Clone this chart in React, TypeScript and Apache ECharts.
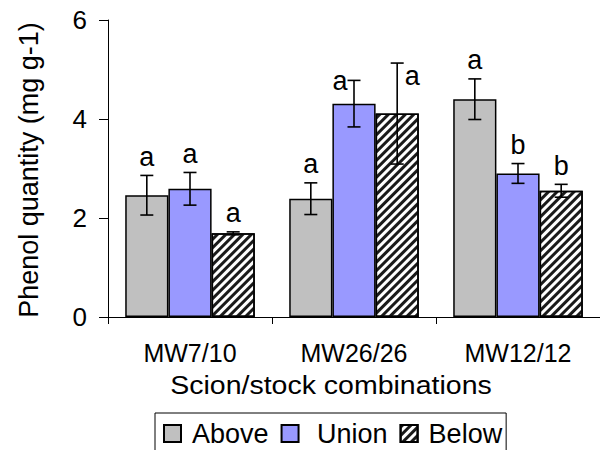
import React, { useEffect, useRef } from "react";
import * as echarts from "echarts";

// Phenol quantity by tissue position for three scion/stock combinations
const categories = ["MW7/10", "MW26/26", "MW12/12"];
const seriesNames = ["Above", "Union", "Below"];

const aboveValues = [2.46, 2.39, 4.4];
const aboveErrors = [0.4, 0.32, 0.41];
const unionValues = [2.59, 4.31, 2.9];
const unionErrors = [0.33, 0.47, 0.2];
const belowValues = [1.69, 4.11, 2.55];
const belowErrors = [0.03, 1.02, 0.13];

const aboveLetters = ["a", "a", "a"];
const unionLetters = ["a", "a", "b"];
const belowLetters = ["a", "a", "b"];

const yMin = 0;
const yMax = 6;
const yStep = 2;

const FONT = "'Liberation Sans', Arial, Helvetica, sans-serif";
const CATEGORY_GAP = 0.21;

// letters that sit beside a tall error bar instead of on top of it
// key: "series-category", offsets in px relative to the bar top
const letterBeside: Record<string, { dx: number; dy: number }> = {
  "1-1": { dx: -14, dy: 9 },
  "2-1": { dx: 15, dy: 24 },
};

const groups = [
  { values: aboveValues, errors: aboveErrors, letters: aboveLetters },
  { values: unionValues, errors: unionErrors, letters: unionLetters },
  { values: belowValues, errors: belowErrors, letters: belowLetters },
];

const barStyles = [
  { color: "#c0c0c0" },
  { color: "#9999ff" },
  {
    color: "#ffffff",
    decal: {
      symbol: "rect",
      symbolSize: 1,
      color: "#1a1a1a",
      dashArrayX: [1, 0],
      dashArrayY: [2.6, 2.8],
      rotation: -Math.PI / 4,
    },
  },
];

export default function App() {
  const ref = useRef<HTMLDivElement>(null);

  useEffect(() => {
    document.body.style.margin = "0";
    if (!ref.current) return;
    const chart = echarts.init(ref.current, undefined, { renderer: "svg" });

    const barSeries = groups.map((g, k) => ({
      type: "bar",
      name: seriesNames[k],
      data: g.values,
      barGap: "0%",
      barCategoryGap: `${CATEGORY_GAP * 100}%`,
      itemStyle: {
        ...barStyles[k],
        borderColor: "#000",
        borderWidth: 1.5,
      },
      z: 2,
    }));

    const errorSeries = groups.map((g, k) => ({
      type: "custom",
      name: `${seriesNames[k]}-error`,
      data: g.values.map((v, i) => [i, v, g.errors[i]]),
      z: 5,
      renderItem: (params: any, api: any) => {
        const cat = api.value(0);
        const mean = api.value(1);
        const err = api.value(2);
        const center = api.coord([cat, mean]);
        const band = api.size([1, 0])[0];
        const barW = (band * (1 - CATEGORY_GAP)) / 3;
        const x = center[0] + (k - 1) * barW;
        const yTop = api.coord([cat, mean + err])[1];
        const yBot = api.coord([cat, mean - err])[1];
        const cap = 6.5;
        const lineStyle = { stroke: "#000", lineWidth: 1.6 };
        const side = letterBeside[`${k}-${params.dataIndex}`];
        const lx = side ? x + side.dx : x;
        const ly = side ? center[1] - side.dy : yTop - 5;
        return {
          type: "group",
          children: [
            { type: "line", shape: { x1: x, y1: yTop, x2: x, y2: yBot }, style: lineStyle },
            { type: "line", shape: { x1: x - cap, y1: yTop, x2: x + cap, y2: yTop }, style: lineStyle },
            { type: "line", shape: { x1: x - cap, y1: yBot, x2: x + cap, y2: yBot }, style: lineStyle },
            {
              type: "text",
              style: {
                x: lx,
                y: ly,
                text: g.letters[params.dataIndex],
                textAlign: "center",
                textVerticalAlign: "bottom",
                font: `27px ${FONT}`,
                fill: "#000",
              },
            },
          ],
        };
      },
    }));

    chart.setOption({
      animation: false,
      backgroundColor: "#fff",
      grid: { left: 108, top: 20, right: -8, bottom: 133, containLabel: false },
      legend: {
        data: seriesNames,
        left: 155,
        top: 413,
        orient: "horizontal",
        icon: "rect",
        itemWidth: 17,
        itemHeight: 17,
        itemGap: 12,
        borderColor: "#000",
        borderWidth: 1,
        padding: [7, 4, 20, 8],
        formatter: (name: string) => (name === "Union" ? ` ${name}` : name),
        textStyle: { fontSize: 27, fontFamily: FONT, color: "#000", padding: [0, 0, 0, 6] },
      },
      xAxis: {
        type: "category",
        data: categories,
        axisLine: { lineStyle: { color: "#000", width: 1 } },
        axisTick: { show: true, length: 7, inside: false, lineStyle: { color: "#000" } },
        axisLabel: { fontSize: 25, fontFamily: FONT, color: "#000", margin: 23 },
        splitLine: { show: false },
      },
      yAxis: {
        type: "value",
        min: yMin,
        max: yMax,
        interval: yStep,
        axisLine: { show: true, lineStyle: { color: "#000", width: 1 } },
        axisTick: { show: true, length: 9, lineStyle: { color: "#000" } },
        axisLabel: { fontSize: 26, fontFamily: FONT, color: "#000", margin: 21 },
        splitLine: { show: false },
      },
      graphic: [
        {
          type: "text",
          x: 331,
          y: 386,
          scaleX: 1.14,
          style: {
            text: "Scion/stock combinations",
            textAlign: "center",
            textVerticalAlign: "middle",
            font: `25px ${FONT}`,
            fill: "#000",
          },
        },
        {
          type: "text",
          x: 29,
          y: 170,
          rotation: Math.PI / 2,
          style: {
            text: "Phenol quantity (mg g-1)",
            textAlign: "center",
            textVerticalAlign: "middle",
            font: `27px ${FONT}`,
            fill: "#000",
          },
        },
      ],
      series: [...barSeries, ...errorSeries],
    });

    return () => chart.dispose();
  }, []);

  return <div ref={ref} style={{ width: 600, height: 450 }} />;
}
